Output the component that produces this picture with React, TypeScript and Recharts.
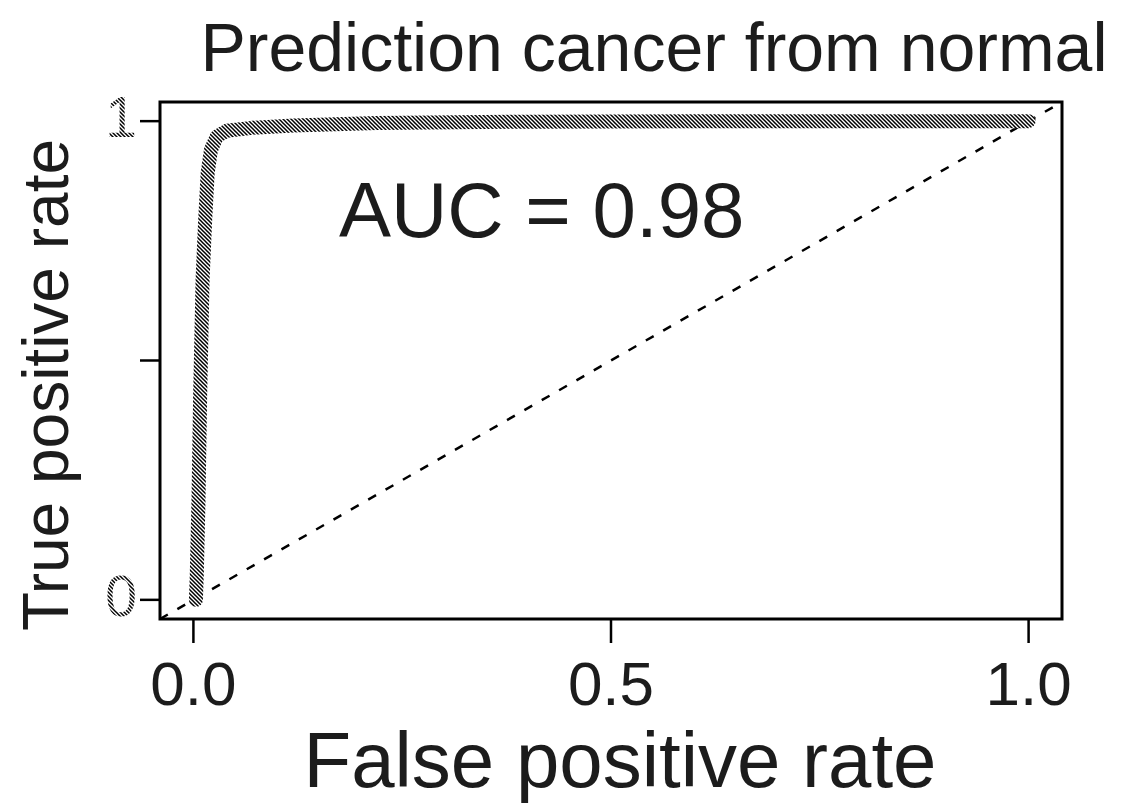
import React from "react";
import {
  LineChart,
  Line,
  XAxis,
  YAxis,
  ReferenceLine,
  ReferenceArea,
  Customized,
} from "recharts";

// ROC curve: false positive rate vs true positive rate
const fpr = [0.003, 0.004, 0.006, 0.008, 0.011, 0.014, 0.017, 0.021, 0.028, 0.04, 0.07, 0.12, 0.22, 0.4, 0.6, 1.0];
const tpr = [0.0, 0.05, 0.2, 0.42, 0.67, 0.79, 0.89, 0.94, 0.968, 0.98, 0.986, 0.991, 0.996, 0.999, 1.0, 1.0];

const xTicks = [0, 0.5, 1];
const xTickLabels = ["0.0", "0.5", "1.0"];
const yTicks = [0, 0.5, 1];
const yTickLabels = ["0", "", "1"];

const titleText = "Prediction cancer from normal";
const xLabelText = "False positive rate";
const yLabelText = "True positive rate";
const aucText = "AUC = 0.98";

const domain: [number, number] = [-0.04, 1.04];

const data = fpr.map((x, i) => ({ fpr: x, tpr: tpr[i] }));

const FONT = "'Liberation Sans', Arial, Helvetica, sans-serif";
const INK = "#1c1c1c";

const XTick = (props: any) => {
  const { x, y, payload } = props;
  const label = xTickLabels[xTicks.indexOf(payload.value)] ?? "";
  return (
    <text x={x} y={y + 62} textAnchor="middle" fontSize={62} fontFamily={FONT} fill={INK}>
      {label}
    </text>
  );
};

const YTick = (props: any) => {
  const { x, y, payload } = props;
  const label = yTickLabels[yTicks.indexOf(payload.value)] ?? "";
  if (!label) return <g />;
  return (
    <text x={x - 19} y={y + 16} textAnchor="middle" fontSize={57} fontFamily={FONT} fill="url(#hatch)">
      {label}
    </text>
  );
};

const Texts = () => (
  <g fontFamily={FONT} fill={INK}>
    <text x={646} y={63} textAnchor="middle" fontSize={68}>
      {titleText}
    </text>
    <text x={331} y={229} textAnchor="start" fontSize={78}>
      {aucText}
    </text>
    <text x={612} y={779} textAnchor="middle" fontSize={78}>
      {xLabelText}
    </text>
    <text
      x={0}
      y={0}
      transform="translate(60,377) rotate(-90)"
      textAnchor="middle"
      fontSize={64}
    >
      {yLabelText}
    </text>
  </g>
);

export default function App() {
  return (
    <LineChart
      width={1124}
      height={795}
      data={data}
      margin={{ top: 94, right: 70, bottom: 84, left: 52 }}
    >
      <defs>
        <pattern id="hatch" patternUnits="userSpaceOnUse" width={4} height={4}>
          <rect width={4} height={4} fill="#ffffff" />
          <path d="M-1,-1 L5,5 M-1,3 L1,5 M3,-1 L5,1" stroke="#000000" strokeWidth={1.5} />
        </pattern>
      </defs>
      <XAxis
        dataKey="fpr"
        type="number"
        domain={domain}
        ticks={xTicks}
        allowDataOverflow
        axisLine={false}
        tickLine={{ stroke: "#000", strokeWidth: 2.5 }}
        tickSize={24}
        tickMargin={0}
        tick={<XTick />}
        height={100}
        interval={0}
      />
      <YAxis
        type="number"
        domain={domain}
        ticks={yTicks}
        allowDataOverflow
        axisLine={false}
        tickLine={{ stroke: "#000", strokeWidth: 2.5 }}
        tickSize={20}
        tickMargin={0}
        tick={<YTick />}
        width={100}
        interval={0}
      />
      <ReferenceArea
        x1={domain[0]}
        x2={domain[1]}
        y1={domain[0]}
        y2={domain[1]}
        fill="none"
        stroke="#000"
        strokeWidth={3}
        ifOverflow="extendDomain"
      />
      <ReferenceLine
        segment={[
          { x: domain[0], y: domain[0] },
          { x: domain[1], y: domain[1] },
        ]}
        stroke="#000"
        strokeWidth={2.5}
        strokeDasharray="9 11"
        ifOverflow="visible"
      />
      <Line
        type="linear"
        dataKey="tpr"
        stroke="url(#hatch)"
        strokeWidth={14}
        strokeLinecap="round"
        strokeLinejoin="round"
        dot={false}
        activeDot={false}
        isAnimationActive={false}
      />
      <Customized component={<Texts />} />
    </LineChart>
  );
}
